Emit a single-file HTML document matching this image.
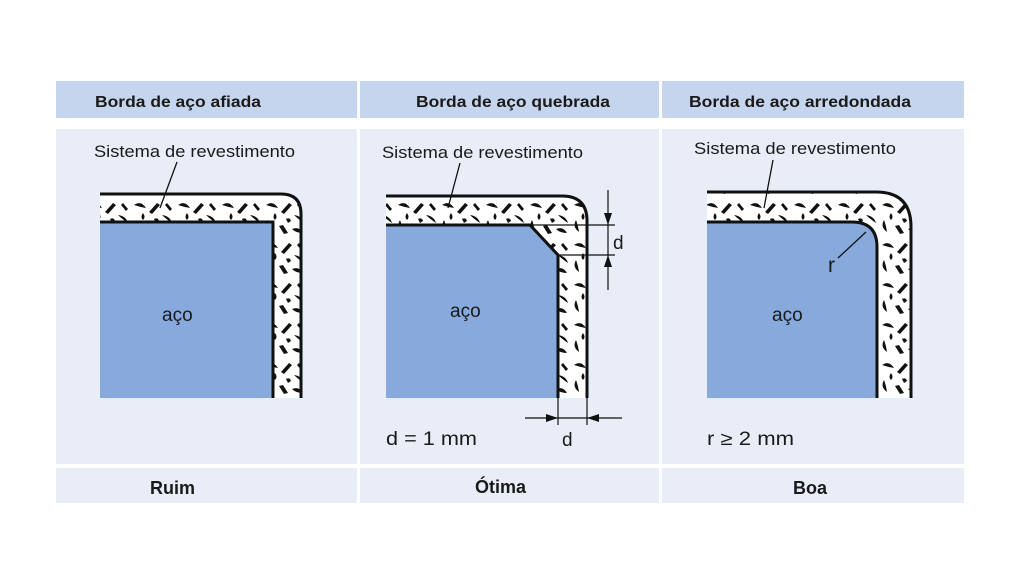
<!DOCTYPE html>
<html><head><meta charset="utf-8"><style>
body{margin:0;background:#fff;width:1024px;height:576px;overflow:hidden}
svg{display:block}
text{font-family:"Liberation Sans",sans-serif;fill:#1a1a1a}
</style></head><body>
<svg width="1024" height="576" viewBox="0 0 1024 576">
<defs>
<pattern id="tx" width="44" height="40" patternUnits="userSpaceOnUse">
<rect width="44" height="40" fill="#fff"/>
<path d="M2 5 q7 -5 12 3 q-6 -1 -12 -3z M17 12 l8 -9 l3 2 l-8 9z M30 15 q8 1 10 8 q-6 -4 -10 -8z M4 20 q-4 7 3 12 q-1 -7 -3 -12z M15 26 l5 8 l4 -1 l-5 -8z M28 29 q7 -3 11 4 q-7 0 -11 -4z M35 3 l5 6 l-2 2 l-5 -6z M11 13 q3 4 0 7 q-3 -3 0 -7z M22 19 q4 -2 5 2 l-3 2z" fill="#111"/>
</pattern>
</defs>
<rect x="56" y="81" width="301" height="37" fill="#c6d5ee"/>
<rect x="360" y="81" width="299" height="37" fill="#c6d5ee"/>
<rect x="662" y="81" width="302" height="37" fill="#c6d5ee"/>
<rect x="56" y="129" width="301" height="335" fill="#e8edf7"/>
<rect x="360" y="129" width="299" height="335" fill="#e8edf7"/>
<rect x="662" y="129" width="302" height="335" fill="#e8edf7"/>
<rect x="56" y="468" width="301" height="35" fill="#e8edf7"/>
<rect x="360" y="468" width="299" height="35" fill="#e8edf7"/>
<rect x="662" y="468" width="302" height="35" fill="#e8edf7"/>
<path d="M100 194 H281 Q301 194 301 214 V398 H273 V222 H100 Z" fill="url(#tx)"/>
<rect x="100" y="222" width="173" height="176" fill="#87a9db"/>
<path d="M100 194 H281 Q301 194 301 214 V398" fill="none" stroke="#111" stroke-width="3"/>
<path d="M100 222 H273 V398" fill="none" stroke="#111" stroke-width="3"/>
<line x1="177" y1="162" x2="160" y2="208" stroke="#111" stroke-width="1.3"/>
<path d="M386 196 H562 Q587 196 587 221 V398 H558 V255 L530 225 H386 Z" fill="url(#tx)"/>
<path d="M386 225 H530 L558 255 V398 H386 Z" fill="#87a9db"/>
<path d="M386 196 H562 Q587 196 587 221 V398" fill="none" stroke="#111" stroke-width="3"/>
<path d="M386 225 H530 L558 255 V398" fill="none" stroke="#111" stroke-width="3"/>
<line x1="460" y1="163" x2="448" y2="208" stroke="#111" stroke-width="1.3"/>
<g stroke="#111" stroke-width="1.2" fill="none">
<line x1="530" y1="225" x2="615" y2="225"/><line x1="558" y1="255" x2="615" y2="255"/>
<line x1="608" y1="190" x2="608" y2="290"/>
<line x1="558" y1="398" x2="558" y2="425"/><line x1="587" y1="398" x2="587" y2="425"/>
<line x1="525" y1="418" x2="622" y2="418"/>
</g>
<g fill="#111">
<path d="M604 213 L612 213 L608 225Z"/><path d="M604 267 L612 267 L608 255Z"/>
<path d="M546 414 L546 422 L558 418Z"/><path d="M599 414 L599 422 L587 418Z"/>
</g>
<path d="M707 192 H876 Q911 192 911 227 V398 H877 V247 Q877 222 852 222 H707 Z" fill="url(#tx)"/>
<path d="M707 222 H852 Q877 222 877 247 V398 H707 Z" fill="#87a9db"/>
<path d="M707 192 H876 Q911 192 911 227 V398" fill="none" stroke="#111" stroke-width="3"/>
<path d="M707 222 H852 Q877 222 877 247 V398" fill="none" stroke="#111" stroke-width="3"/>
<line x1="773" y1="160" x2="764" y2="208" stroke="#111" stroke-width="1.3"/>
<line x1="838" y1="258" x2="866" y2="232" stroke="#111" stroke-width="1.3"/>
<g font-weight="bold" font-size="16">
<text x="95" y="107" textLength="166" lengthAdjust="spacingAndGlyphs">Borda de aço afiada</text>
<text x="416" y="107" textLength="194" lengthAdjust="spacingAndGlyphs">Borda de aço quebrada</text>
<text x="689" y="107" textLength="222" lengthAdjust="spacingAndGlyphs">Borda de aço arredondada</text>
<text x="150" y="494" font-size="18">Ruim</text>
<text x="475" y="493" font-size="18">Ótima</text>
<text x="793" y="494" font-size="18">Boa</text>
</g>
<g font-size="17">
<text x="94" y="157" textLength="201" lengthAdjust="spacingAndGlyphs">Sistema de revestimento</text>
<text x="382" y="158" textLength="201" lengthAdjust="spacingAndGlyphs">Sistema de revestimento</text>
<text x="694" y="154" textLength="202" lengthAdjust="spacingAndGlyphs">Sistema de revestimento</text>
</g>
<g font-size="19">
<text x="162" y="321">aço</text>
<text x="450" y="317">aço</text>
<text x="772" y="321">aço</text>
<text x="386" y="445" textLength="91" lengthAdjust="spacingAndGlyphs">d = 1 mm</text>
<text x="562" y="446">d</text>
<text x="613" y="249">d</text>
<text x="828" y="272" font-size="21">r</text>
<text x="707" y="445" textLength="87" lengthAdjust="spacingAndGlyphs">r ≥ 2 mm</text>
</g>
</svg>
</body></html>
